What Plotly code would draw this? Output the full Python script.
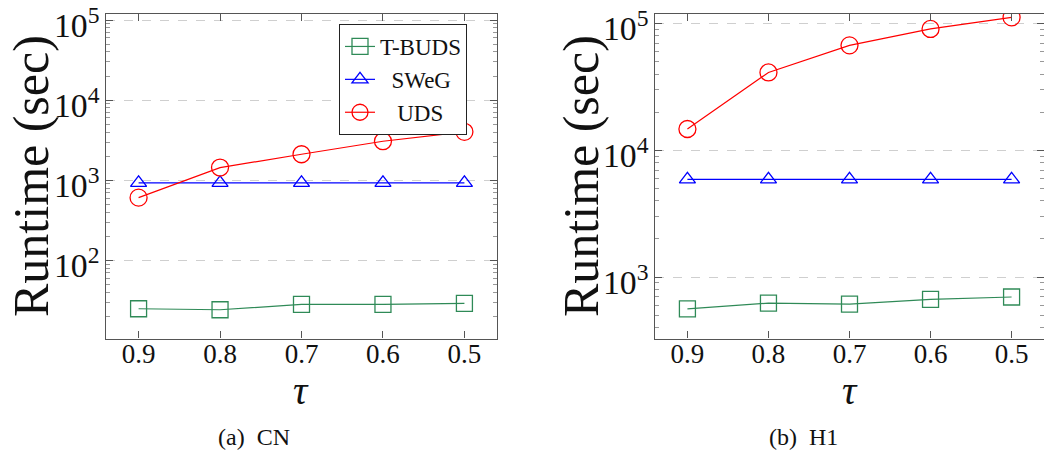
import plotly.graph_objects as go

# Threshold values on the x axis (shown in descending order)
tau = [0.9, 0.8, 0.7, 0.6, 0.5]
tau_labels = ["0.9", "0.8", "0.7", "0.6", "0.5"]

# Runtime in seconds, dataset CN
cn_tbuds = [24.9, 24.2, 28.2, 28.2, 29.0]
cn_sweg = [930, 930, 930, 930, 930]
cn_uds = [607, 1440, 2110, 3070, 4020]

# Runtime in seconds, dataset H1
h1_tbuds = [562, 624, 612, 667, 697]
h1_sweg = [5900, 5900, 5900, 5900, 5900]
h1_uds = [14750, 41200, 67400, 90800, 112000]

series_names = ["T-BUDS", "SWeG", "UDS"]
# non-breaking spaces roughly centre the shorter names in the legend box
legend_pad = ["", "\u00a0\u00a0", "\u00a0\u00a0\u00a0"]
colors = ["#2f8a57", "#0000ff", "#ff0000"]
symbols = ["square-open", "triangle-up-open", "circle-open"]
msizes = [16, 14, 17]

FONT = "'Liberation Serif', 'DejaVu Serif', serif"
W, H = 1044, 452

fig = go.Figure()

panels = [
    ("x", "y", [cn_tbuds, cn_sweg, cn_uds], True),
    ("x2", "y2", [h1_tbuds, h1_sweg, h1_uds], False),
]
for xa, ya, data, show in panels:
    for name, pad, vals, c, s, ms in zip(series_names, legend_pad, data, colors, symbols, msizes):
        fig.add_trace(go.Scatter(
            x=tau, y=vals, name=pad + name, mode="lines+markers",
            xaxis=xa, yaxis=ya, showlegend=show,
            line=dict(color=c, width=1.2),
            marker=dict(symbol=s, size=ms, color=c, line=dict(width=1.3, color=c)),
        ))

def px_x(p):
    return p / W

def px_y(p):
    return 1 - p / H

common_x = dict(
    range=[0.94, 0.46], tickvals=tau, ticktext=tau_labels,
    ticks="inside", ticklen=7, tickcolor="#555", tickwidth=1,
    showline=True, linecolor="#555", linewidth=1.3, mirror="ticks",
    showgrid=False, zeroline=False, automargin=False,
    ticklabelstandoff=-9,
    tickfont=dict(family=FONT, size=27, color="#111"),
)
common_y = dict(
    type="log", dtick=1, exponentformat="power",
    ticks="inside", ticklen=7, tickcolor="#555", tickwidth=1,
    showline=True, linecolor="#555", linewidth=1.3, mirror="ticks",
    showgrid=True, gridcolor="#cfcfcf", griddash="dash", gridwidth=1,
    zeroline=False, automargin=False, ticklabeloverflow="allow",
    ticklabelshift=5,
    minor=dict(ticks="inside", ticklen=4, tickcolor="#999", dtick="D1", showgrid=False),
    tickfont=dict(family=FONT, size=27, color="#111"),
)

fig.update_layout(
    width=W, height=H, margin=dict(l=0, r=0, t=0, b=0, autoexpand=False),
    paper_bgcolor="white", plot_bgcolor="white",
    font=dict(family=FONT),
    xaxis=dict(domain=[px_x(106), px_x(497)], anchor="y", **common_x),
    yaxis=dict(domain=[px_y(338.5), px_y(14)], anchor="x",
               range=[1.025, 5.075], **common_y),
    xaxis2=dict(domain=[px_x(655), 1.0], anchor="y2", **common_x),
    yaxis2=dict(domain=[px_y(338.5), px_y(14)], anchor="x2",
                range=[2.516, 5.076], **common_y),
    legend=dict(
        x=px_x(339), y=px_y(24), xanchor="left", yanchor="top",
        bordercolor="#222", borderwidth=1, bgcolor="white",
        font=dict(family=FONT, size=23, color="#111"),
        tracegroupgap=0, itemsizing="trace", itemwidth=30,
    ),
    showlegend=True,
)

annots = [
    # y axis titles
    dict(x=px_x(31), y=px_y(176), text="Runtime (sec)", textangle=-90, font_size=50),
    dict(x=px_x(581), y=px_y(176), text="Runtime (sec)", textangle=-90, font_size=50),
    # x axis titles
    dict(x=px_x(301), y=px_y(390), text="<i>τ</i>", font_size=40),
    dict(x=px_x(850), y=px_y(390), text="<i>τ</i>", font_size=40),
    # panel captions
    dict(x=px_x(254), y=px_y(437), text="(a)  CN", font_size=24),
    dict(x=px_x(803), y=px_y(437), text="(b)  H1", font_size=24),
]
for a in annots:
    size = a.pop("font_size")
    fig.add_annotation(xref="paper", yref="paper", xanchor="center", yanchor="middle",
                       showarrow=False, font=dict(family=FONT, size=size, color="#111"), **a)

fig.write_html("out.html")
